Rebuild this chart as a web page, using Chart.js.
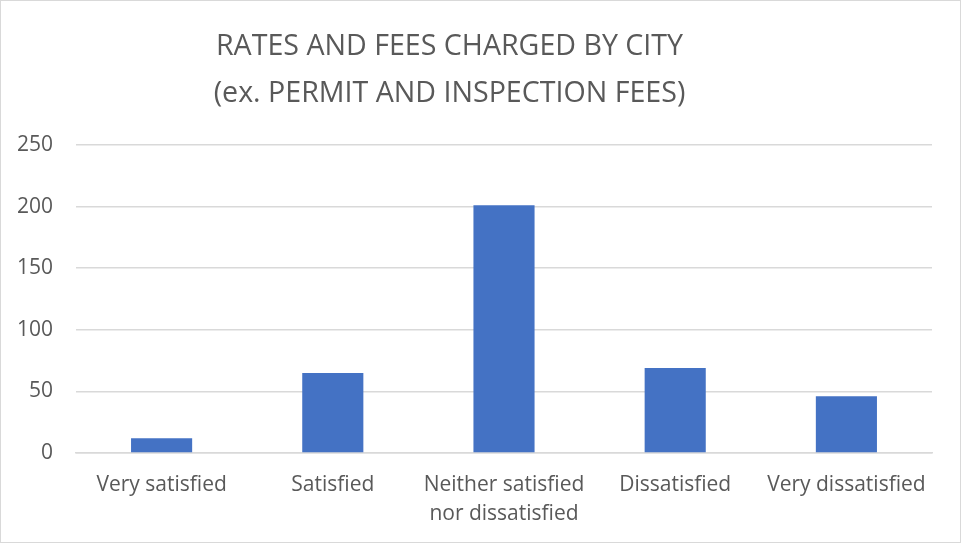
<!DOCTYPE html>
<html>
<head>
<meta charset="utf-8">
<script src="https://cdn.jsdelivr.net/npm/chart.js@4/dist/chart.umd.min.js"></script>
<style>
  html, body { margin: 0; padding: 0; background: #fff; }
  #wrap {
    width: 961px;
    height: 543px;
    box-sizing: border-box;
    border: 1px solid #d9d9d9;
    position: relative;
  }
  #chart { display: block; }
</style>
</head>
<body>
<div id="wrap"><canvas id="chart" width="959" height="541"></canvas></div>
<script>
const titleLines = ["RATES AND FEES CHARGED BY CITY", "(ex. PERMIT AND INSPECTION FEES)"];
const categories = [
  "Very satisfied",
  "Satisfied",
  ["Neither satisfied", "nor dissatisfied"],
  "Dissatisfied",
  "Very dissatisfied",
];
const responses = [12, 65, 201, 69, 46];
const yTicks = [0, 50, 100, 150, 200, 250];

const textColor = "#595959";
const gridColor = "#d9d9d9";
const barColor = "#4472c4";

const ctx = document.getElementById("chart");

// the title in the original sits a bit left of the canvas centre
const shiftTitle = {
  id: "shiftTitle",
  afterLayout(chart) {
    const t = chart.titleBlock;
    t.left = 0;
    t.right = 897;
  },
};

let chart = new Chart(ctx, {
  type: "bar",
  plugins: [shiftTitle],
  data: {
    labels: categories,
    datasets: [
      {
        label: "Responses",
        data: responses,
        backgroundColor: barColor,
        borderWidth: 0,
        categoryPercentage: 1,
        barPercentage: 0.357,
      },
    ],
  },
  options: {
    responsive: false,
    animation: false,
    layout: {
      padding: { top: 22, left: 16, right: 28, bottom: 13 },
    },
    plugins: {
      legend: { display: false },
      tooltip: { enabled: false },
      title: {
        display: true,
        text: titleLines,
        color: textColor,
        font: { family: "'Open Sans'", size: 28.6, weight: 400, lineHeight: "47px" },
        padding: { top: 0, bottom: 28 },
      },
    },
    scales: {
      x: {
        grid: { display: false, drawTicks: false },
        border: { display: true, color: gridColor, width: 1.5 },
        ticks: {
          color: textColor,
          font: { family: "'Open Sans'", size: 21, lineHeight: "29px" },
          padding: 18,
          maxRotation: 0,
          autoSkip: false,
        },
        afterFit: (axis) => {
          // keep the plot edges where the reference has them
          axis.paddingLeft = 0;
          axis.paddingRight = 0;
          axis.height = 18 + 58;
        },
      },
      y: {
        min: 0,
        max: 250,
        afterBuildTicks: (axis) => {
          axis.ticks = yTicks.map((v) => ({ value: v }));
        },
        afterFit: (axis) => {
          axis.width = 59;
        },
        grid: { color: gridColor, lineWidth: 1.5, drawTicks: false },
        border: { display: false },
        ticks: {
          color: textColor,
          font: { family: "'Open Sans'", size: 21 },
          padding: 23,
        },
      },
    },
  },
});
</script>
</body>
</html>
